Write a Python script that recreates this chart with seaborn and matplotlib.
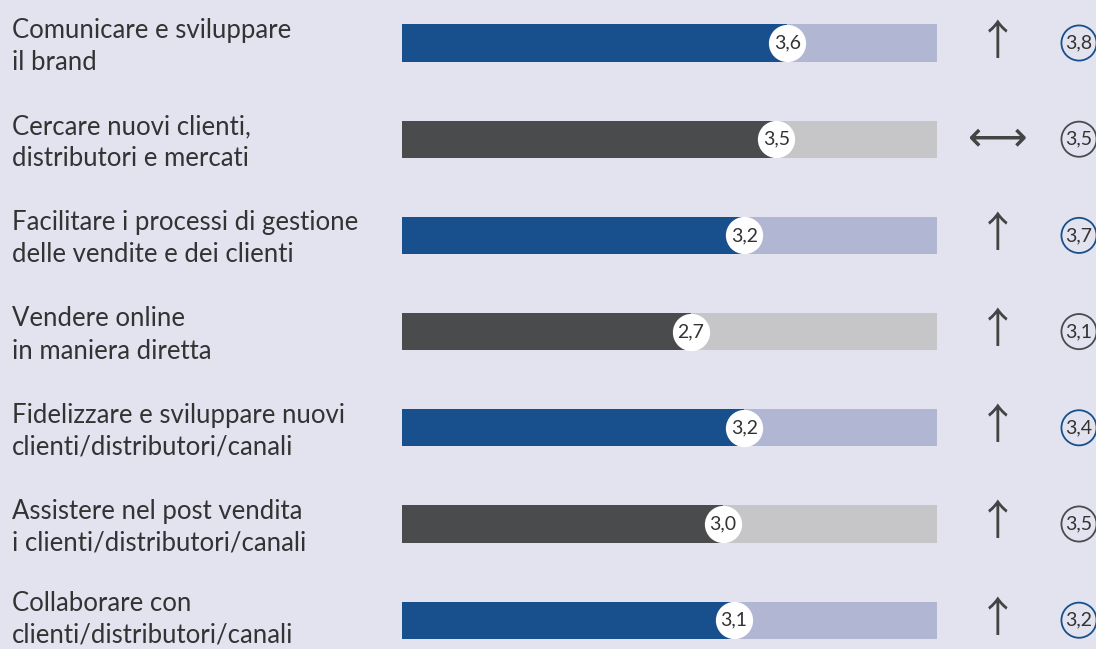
import matplotlib
matplotlib.use("Agg")
import matplotlib.pyplot as plt
import seaborn as sns
import pandas as pd

categories = [
    "Comunicare e sviluppare\nil brand",
    "Cercare nuovi clienti,\ndistributori e mercati",
    "Facilitare i processi di gestione\ndelle vendite e dei clienti",
    "Vendere online\nin maniera diretta",
    "Fidelizzare e sviluppare nuovi\nclienti/distributori/canali",
    "Assistere nel post vendita\ni clienti/distributori/canali",
    "Collaborare con\nclienti/distributori/canali",
]
current = [3.6, 3.5, 3.2, 2.7, 3.2, 3.0, 3.1]
future = [3.8, 3.5, 3.7, 3.1, 3.4, 3.5, 3.2]
trend = ["↑", "⟷", "↑", "↑", "↑", "↑", "↑"]
scale_max = 5

BG = "#e2e3ef"
dark = ["#17508c", "#4a4b4d"]
light = ["#b1b6d3", "#c6c6c8"]
dark_c = [dark[i % 2] for i in range(len(categories))]
light_c = [light[i % 2] for i in range(len(categories))]

df = pd.DataFrame({"cat": categories, "cur": current, "fut": future,
                   "full": [scale_max] * len(categories)})

sns.set_theme(style="white")
plt.rcParams["font.family"] = ["Lato", "DejaVu Sans"]

fig = plt.figure(figsize=(10.96, 6.49), dpi=100, facecolor=BG)
ax = fig.add_axes([0, 0, 1, 1])
ax.set_facecolor(BG)

sns.barplot(data=df, y="cat", x="full", hue="cat", palette=light_c, orient="h",
            width=0.385, legend=False, ax=ax, saturation=1, linewidth=0)
sns.barplot(data=df, y="cat", x="cur", hue="cat", palette=dark_c, orient="h",
            width=0.385, legend=False, ax=ax, saturation=1, linewidth=0)

px = 107.0  # pixels per unit
ax.set_xlim(-402 / px, (1096 - 402) / px)
ax.set_ylim((649 - 43) / 96.2, -43 / 96.2)
ax.axis("off")

x_label = (12 - 402) / px
x_arrow = (998 - 402) / px
x_circ = (1079 - 402) / px

arrow_fam = ["Noto Sans CJK JP", "Noto Sans", "DejaVu Sans"]

n = len(categories)
for i, (cat, c, f, t) in enumerate(zip(categories, current, future, trend)):
    dy = 0.035 if i < n - 1 else -0.01
    ax.text(x_label, i + dy, cat, ha="left", va="center", fontsize=18.5,
            color="#333333", linespacing=1.36)
    ax.scatter([c], [i], s=720, color="white", zorder=5, linewidths=0)
    ax.text(c, i, f"{c:.1f}".replace(".", ","), ha="center", va="center",
            fontsize=14, color="#333333", zorder=6)
    ax.text(x_arrow, i, t, ha="center", va="center", fontsize=30,
            color="#444444", family=arrow_fam)
    ax.scatter([x_circ], [i], s=640, facecolor="none", edgecolor=dark_c[i],
               linewidths=1.3, zorder=5)
    ax.text(x_circ, i, f"{f:.1f}".replace(".", ","), ha="center", va="center",
            fontsize=14, color="#333333", zorder=6)

fig.savefig("out.png", dpi=100, facecolor=BG)
